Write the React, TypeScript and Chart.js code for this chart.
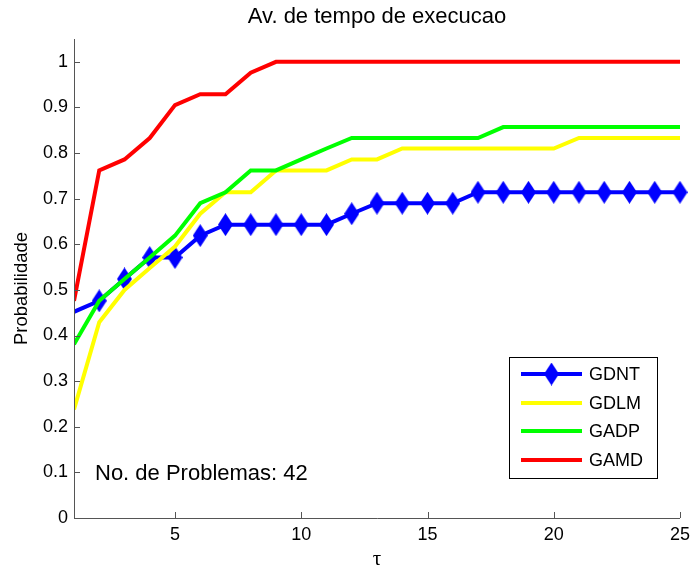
import { useEffect, useRef } from "react";
import { Chart, registerables } from "chart.js";

Chart.register(...registerables);

const TITLE = "Av. de tempo de execucao";
const X_LABEL = "τ";
const Y_LABEL = "Probabilidade";
const NOTE = "No. de Problemas: 42";

const TAU = [1, 2, 3, 4, 5, 6, 7, 8, 9, 10, 11, 12, 13, 14, 15, 16, 17, 18, 19, 20, 21, 22, 23, 24, 25];
const X_TICKS = [5, 10, 15, 20, 25];
const Y_TICKS = [0, 0.1, 0.2, 0.3, 0.4, 0.5, 0.6, 0.7, 0.8, 0.9, 1];

const GDNT = [0.452, 0.476, 0.524, 0.571, 0.571, 0.619, 0.643, 0.643, 0.643, 0.643, 0.643, 0.667, 0.690, 0.690, 0.690, 0.690, 0.714, 0.714, 0.714, 0.714, 0.714, 0.714, 0.714, 0.714, 0.714];
const GDLM = [0.238, 0.429, 0.500, 0.548, 0.595, 0.667, 0.714, 0.714, 0.762, 0.762, 0.762, 0.786, 0.786, 0.810, 0.810, 0.810, 0.810, 0.810, 0.810, 0.810, 0.833, 0.833, 0.833, 0.833, 0.833];
const GADP = [0.381, 0.476, 0.524, 0.571, 0.619, 0.690, 0.714, 0.762, 0.762, 0.786, 0.810, 0.833, 0.833, 0.833, 0.833, 0.833, 0.833, 0.857, 0.857, 0.857, 0.857, 0.857, 0.857, 0.857, 0.857];
const GAMD = [0.476, 0.762, 0.786, 0.833, 0.905, 0.929, 0.929, 0.976, 1, 1, 1, 1, 1, 1, 1, 1, 1, 1, 1, 1, 1, 1, 1, 1, 1];

const SERIES_NAMES = ["GDNT", "GDLM", "GADP", "GAMD"];
const SERIES_COLORS = ["#0000ff", "#ffff00", "#00ff00", "#ff0000"];

const FONT = "'Liberation Sans', Arial, Helvetica, sans-serif";
const AXIS_COLOR = "#555555";

function makeDiamond(w: number, h: number, color: string) {
  const c = document.createElement("canvas");
  c.width = w;
  c.height = h;
  const ctx = c.getContext("2d")!;
  ctx.fillStyle = color;
  ctx.beginPath();
  ctx.moveTo(w / 2, 0);
  ctx.lineTo(w, h / 2);
  ctx.lineTo(w / 2, h);
  ctx.lineTo(0, h / 2);
  ctx.closePath();
  ctx.fill();
  return c;
}

export default function App() {
  const ref = useRef<HTMLCanvasElement | null>(null);

  useEffect(() => {
    const canvas = ref.current;
    if (!canvas) return;
    const diamond = makeDiamond(15, 23, SERIES_COLORS[0]);
    const seriesValues = [GDNT, GDLM, GADP, GAMD];

    const decor = {
      id: "decor",
      afterDraw(chart: any) {
        const ctx = chart.ctx;
        const area = chart.chartArea;
        const xs = chart.scales.x;
        const ys = chart.scales.y;
        ctx.save();
        // axes
        ctx.strokeStyle = AXIS_COLOR;
        ctx.lineWidth = 1;
        ctx.beginPath();
        ctx.moveTo(area.left + 0.5, area.top);
        ctx.lineTo(area.left + 0.5, area.bottom + 0.5);
        ctx.lineTo(area.right, area.bottom + 0.5);
        ctx.stroke();
        // inward ticks
        ctx.beginPath();
        for (const v of X_TICKS) {
          const px = Math.round(xs.getPixelForValue(v)) + 0.5;
          ctx.moveTo(px, area.bottom);
          ctx.lineTo(px, area.bottom - 6);
        }
        for (const v of Y_TICKS) {
          const py = Math.round(ys.getPixelForValue(v)) + 0.5;
          ctx.moveTo(area.left, py);
          ctx.lineTo(area.left + 6, py);
        }
        ctx.stroke();

        ctx.fillStyle = "#000";
        // title
        ctx.font = `22px ${FONT}`;
        ctx.textAlign = "center";
        ctx.textBaseline = "middle";
        ctx.fillText(TITLE, (area.left + area.right) / 2, 17);
        // x label
        ctx.font = `21px 'Liberation Serif', 'DejaVu Serif', serif`;
        ctx.textBaseline = "alphabetic";
        ctx.fillText(X_LABEL, (area.left + area.right) / 2, 565);
        // y label
        ctx.save();
        ctx.translate(22, (area.top + area.bottom) / 2 + 10);
        ctx.rotate(-Math.PI / 2);
        ctx.font = `18.5px ${FONT}`;
        ctx.textBaseline = "middle";
        ctx.fillText(Y_LABEL, 0, 0);
        ctx.restore();
        // annotation
        ctx.font = `22px ${FONT}`;
        ctx.textAlign = "left";
        ctx.textBaseline = "middle";
        ctx.fillText(NOTE, 95, 474);

        // legend
        const bx = 509, by = 357, bw = 148, bh = 121;
        ctx.fillStyle = "#fff";
        ctx.fillRect(bx, by, bw, bh);
        ctx.strokeStyle = "#000";
        ctx.lineWidth = 1;
        ctx.strokeRect(bx + 0.5, by + 0.5, bw, bh);
        const rows = [374, 403, 431, 460];
        ctx.font = `18px ${FONT}`;
        ctx.textBaseline = "middle";
        ctx.textAlign = "left";
        SERIES_NAMES.forEach((name, i) => {
          const y = rows[i];
          ctx.strokeStyle = SERIES_COLORS[i];
          ctx.lineWidth = 4;
          ctx.beginPath();
          ctx.moveTo(521, y);
          ctx.lineTo(582, y);
          ctx.stroke();
          if (i === 0) ctx.drawImage(diamond, 551.5 - diamond.width / 2, y - diamond.height / 2);
          ctx.fillStyle = "#000";
          ctx.fillText(name, 589, y + 1);
        });
        ctx.restore();
      },
    };

    const datasets = SERIES_NAMES.map((name, i) => ({
      label: name,
      data: TAU.map((t, k) => ({ x: t, y: seriesValues[i][k] })),
      borderColor: SERIES_COLORS[i],
      backgroundColor: SERIES_COLORS[i],
      borderWidth: 4,
      tension: 0,
      pointRadius: (c: any) => (i === 0 && c.dataIndex > 0 ? 8 : 0),
      pointHoverRadius: 0,
      pointStyle: i === 0 ? diamond : "circle",
      order: 4 - i,
      clip: { left: 0, top: 10, right: 10, bottom: 0 },
    }));

    const chart = new Chart(canvas, {
      type: "line",
      data: { datasets },
      options: {
        animation: false,
        responsive: false,
        events: [],
        layout: { padding: { top: 39, right: 11, left: 0, bottom: 0 } },
        plugins: { legend: { display: false }, title: { display: false }, tooltip: { enabled: false } },
        scales: {
          x: {
            type: "linear",
            min: 1,
            max: 25,
            grid: { display: false, drawTicks: false },
            border: { display: false },
            afterBuildTicks: (s: any) => {
              s.ticks = X_TICKS.map((v) => ({ value: v }));
            },
            afterFit: (s: any) => {
              s.height = 49;
              s.paddingLeft = 0;
              s.paddingRight = 0;
            },
            ticks: {
              color: "#000",
              font: { family: FONT, size: 18 },
              padding: 6,
              maxRotation: 0,
              autoSkip: false,
              callback: (v: any) => String(v),
            },
          },
          y: {
            type: "linear",
            min: 0,
            max: 1.05,
            grid: { display: false, drawTicks: false },
            border: { display: false },
            afterBuildTicks: (s: any) => {
              s.ticks = Y_TICKS.map((v) => ({ value: v }));
            },
            afterFit: (s: any) => {
              s.width = 74;
              s.paddingTop = 0;
              s.paddingBottom = 0;
            },
            ticks: {
              color: "#000",
              font: { family: FONT, size: 18 },
              padding: 6,
              autoSkip: false,
              callback: (v: any) => String(Math.round(Number(v) * 10) / 10),
            },
          },
        },
      },
      plugins: [decor],
    } as any);

    return () => chart.destroy();
  }, []);

  return (
    <div style={{ position: "fixed", left: 0, top: 0, width: 692, height: 567, background: "#fff" }}>
      <canvas ref={ref} width={692} height={567} style={{ display: "block", width: 692, height: 567 }} />
    </div>
  );
}
